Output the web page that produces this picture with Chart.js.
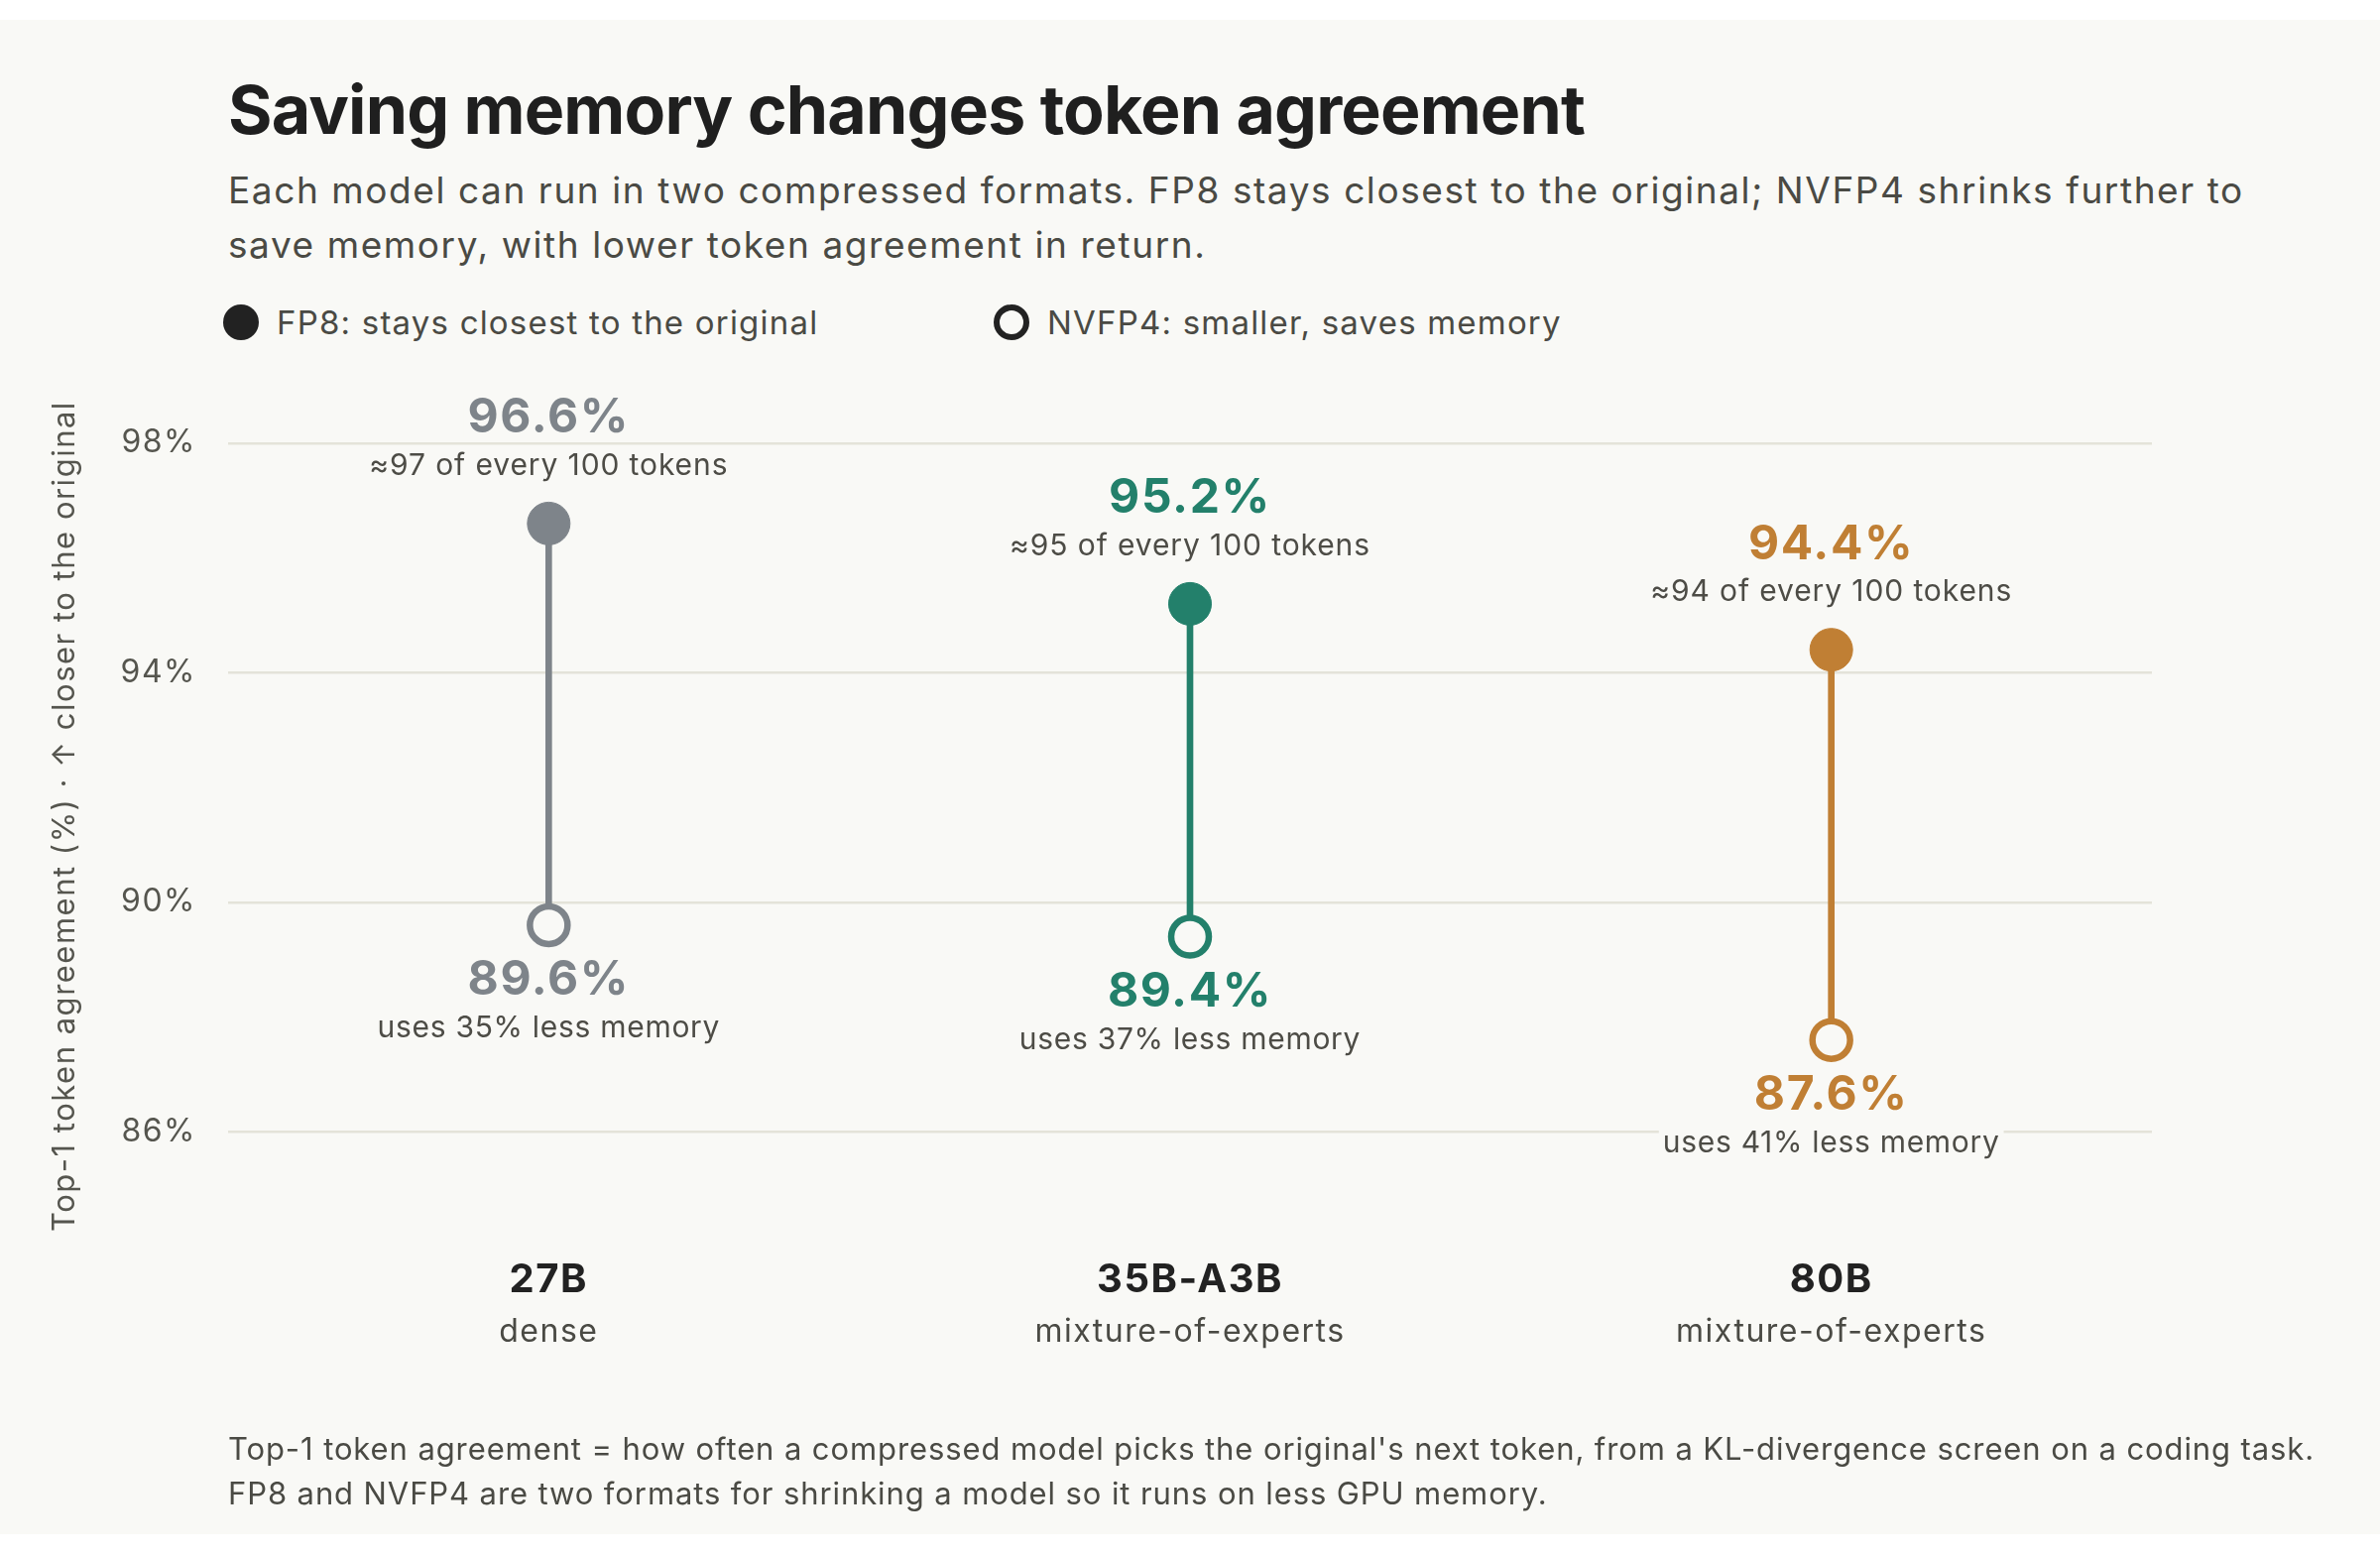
<!DOCTYPE html>
<html>
<head>
<meta charset="utf-8">
<script src="https://cdn.jsdelivr.net/npm/chart.js@4.4.1/dist/chart.umd.min.js"></script>
<style>
  html, body { margin: 0; padding: 0; background: #ffffff; }
  body { width: 2400px; height: 1567px; position: relative; overflow: hidden; font-family: Inter, "Noto Sans", sans-serif; }
  #panel { position: absolute; left: 0; top: 20px; width: 2400px; height: 1527px; background: #f9f9f6; }
  #chart { position: absolute; left: 0; top: 0; }
  .txt { position: absolute; left: 230px; white-space: nowrap; margin: 0; }
  #title { top: 76px; font-size: 68px; line-height: 68px; font-weight: 700; color: #1f1f1f; letter-spacing: -0.85px; }
  #subtitle { top: 164px; font-size: 37px; line-height: 55px; color: #4a4a44; letter-spacing: 1.58px; }
  .legend-item { position: absolute; top: 307px; height: 36px; display: flex; align-items: center; font-size: 33px; color: #4a4a44; letter-spacing: 1.2px; white-space: nowrap; }
  .swatch { width: 36px; height: 36px; border-radius: 50%; box-sizing: border-box; margin-right: 18px; flex: none; }
  #footer { top: 1438px; font-size: 31px; line-height: 45px; color: #4a4a44; letter-spacing: 0.9px; }
</style>
</head>
<body>
<div id="panel"></div>
<h1 class="txt" id="title">Saving memory changes token agreement</h1>
<p class="txt" id="subtitle">Each model can run in two compressed formats. FP8 stays closest to the original; NVFP4 shrinks further to<br>save memory, with lower token agreement in return.</p>
<div class="legend-item" style="left:225px"><span class="swatch" style="background:#222222"></span><span>FP8: stays closest to the original</span></div>
<div class="legend-item" style="left:1002px"><span class="swatch" style="border:6px solid #222222"></span><span>NVFP4: smaller, saves memory</span></div>
<canvas id="chart" width="2400" height="1567"></canvas>
<p class="txt" id="footer">Top-1 token agreement = how often a compressed model picks the original's next token, from a KL-divergence screen on a coding task.<br>FP8 and NVFP4 are two formats for shrinking a model so it runs on less GPU memory.</p>
<script>
// ---- data ----
const categories = ['27B', '35B-A3B', '80B'];
const archTypes = ['dense', 'mixture-of-experts', 'mixture-of-experts'];
const fp8Values = [96.6, 95.2, 94.4];
const nvfp4Values = [89.6, 89.4, 87.6];
const fp8Notes = ['\u224897 of every 100 tokens', '\u224895 of every 100 tokens', '\u224894 of every 100 tokens'];
const nvfp4Notes = ['uses 35% less memory', 'uses 37% less memory', 'uses 41% less memory'];
const yTickValues = [86, 90, 94, 98];
const yAxisTitle = 'Top-1 token agreement (%) \u00b7 \u2191 closer to the original';

// ---- styles ----
const modelColors = ['#7e848a', '#23806b', '#c07f34'];
const panelBg = '#f9f9f6';
const noteColor = '#4d4c46';
const FONT = 'Inter, "Noto Sans", sans-serif';

Chart.defaults.font.family = FONT;

const spacingPlugin = {
  id: 'spacing',
  beforeDraw(chart) { chart.ctx.letterSpacing = '1.5px'; },
  afterDraw(chart) { chart.ctx.letterSpacing = '0px'; }
};

function drawLabel(ctx, text, x, y, font, color, spacing, haloH) {
  ctx.font = font;
  ctx.letterSpacing = spacing;
  const w = ctx.measureText(text).width;
  ctx.fillStyle = panelBg;
  ctx.fillRect(x - w / 2 - 4, y - haloH / 2, w + 8, haloH);
  ctx.fillStyle = color;
  ctx.fillText(text, x, y);
}

const valueLabelPlugin = {
  id: 'valueLabels',
  afterDatasetsDraw(chart) {
    const { ctx } = chart;
    const xs = chart.scales.x, ys = chart.scales.y;
    ctx.save();
    ctx.textAlign = 'center';
    ctx.textBaseline = 'middle';
    const boldFont = '700 48px ' + FONT;
    const noteFont = '400 30px ' + FONT;
    categories.forEach((c, i) => {
      const px = xs.getPixelForValue(i);
      const yTop = ys.getPixelForValue(fp8Values[i]);
      const yBot = ys.getPixelForValue(nvfp4Values[i]);
      drawLabel(ctx, fp8Values[i].toFixed(1) + '%', px, yTop - 106, boldFont, modelColors[i], '1.6px', 40);
      drawLabel(ctx, fp8Notes[i], px, yTop - 58, noteFont, noteColor, '0.9px', 26);
      drawLabel(ctx, nvfp4Values[i].toFixed(1) + '%', px, yBot + 56, boldFont, modelColors[i], '1.6px', 40);
      drawLabel(ctx, nvfp4Notes[i], px, yBot + 104, noteFont, noteColor, '0.7px', 26);
    });
    ctx.restore();
  }
};

new Chart(document.getElementById('chart'), {
  type: 'bar',
  data: {
    labels: categories,
    datasets: [
      {
        type: 'bar',
        label: 'range',
        data: categories.map((_, i) => [nvfp4Values[i], fp8Values[i]]),
        backgroundColor: modelColors,
        borderWidth: 0,
        barThickness: 6,
        order: 3
      },
      {
        type: 'line',
        label: 'FP8',
        data: fp8Values,
        showLine: false,
        pointRadius: 21.5,
        pointHoverRadius: 21.5,
        pointBackgroundColor: modelColors,
        pointBorderColor: modelColors,
        pointBorderWidth: 1,
        order: 1
      },
      {
        type: 'line',
        label: 'NVFP4',
        data: nvfp4Values,
        showLine: false,
        pointRadius: 19,
        pointHoverRadius: 19,
        pointBackgroundColor: panelBg,
        pointBorderColor: modelColors,
        pointBorderWidth: 6.5,
        order: 2
      }
    ]
  },
  options: {
    responsive: false,
    animation: false,
    events: [],
    devicePixelRatio: 1,
    layout: { padding: { left: 0, right: 230, top: 389, bottom: 191 } },
    plugins: { legend: { display: false }, tooltip: { enabled: false }, title: { display: false } },
    scales: {
      x: {
        type: 'category',
        labels: categories,
        offset: true,
        grid: { display: false },
        border: { display: false },
        ticks: { font: { size: 40, weight: '700' }, color: '#222222', padding: 2, maxRotation: 0 },
        afterFit(s) { s.height = 59; }
      },
      x2: {
        type: 'category',
        labels: archTypes,
        position: 'bottom',
        offset: true,
        grid: { display: false },
        border: { display: false },
        ticks: { font: { size: 32 }, color: '#4a4a44', padding: 0, maxRotation: 0 },
        afterFit(s) { s.height = 60; }
      },
      y: {
        min: 84,
        max: 99,
        afterBuildTicks(s) { s.ticks = yTickValues.map(v => ({ value: v })); },
        grid: { color: '#e4e3d9', lineWidth: 2.5, drawTicks: false },
        border: { display: false },
        ticks: { callback: v => v + '%', font: { size: 32 }, color: '#55554e', padding: 32 },
        title: { display: true, text: yAxisTitle, font: { size: 31 }, color: '#55554e', padding: { top: 47, bottom: 0 } },
        afterFit(s) { s.width = 230; }
      }
    }
  },
  plugins: [spacingPlugin, valueLabelPlugin]
});
</script>
</body>
</html>
